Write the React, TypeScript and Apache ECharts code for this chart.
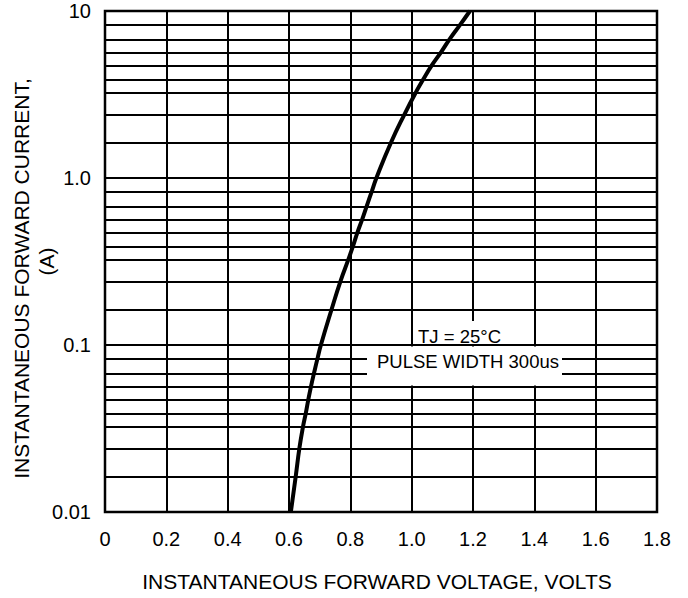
import React, { useEffect, useRef } from "react";
import * as echarts from "echarts";

// Forward voltage (V) read at each grid current (A)
const voltage = [
  0.606, 0.622, 0.634, 0.646, 0.655, 0.663, 0.672, 0.682, 0.693, 0.704,
  0.739, 0.768, 0.794, 0.809, 0.823, 0.839, 0.854, 0.870, 0.885,
  0.933, 0.977, 1.014, 1.039, 1.065, 1.096, 1.125, 1.159, 1.190,
];
const current = [
  0.01, 0.02, 0.03, 0.04, 0.05, 0.06, 0.07, 0.08, 0.09, 0.1,
  0.2, 0.3, 0.4, 0.5, 0.6, 0.7, 0.8, 0.9, 1,
  2, 3, 4, 5, 6, 7, 8, 9, 10,
];

// Minor horizontal grid lines (A)
const gridCurrents = [
  0.02, 0.03, 0.04, 0.05, 0.06, 0.07, 0.08, 0.09,
  0.2, 0.3, 0.4, 0.5, 0.6, 0.7, 0.8, 0.9,
  2, 3, 4, 5, 6, 7, 8, 9,
];

const yTickLabels = ["0.01", "0.1", "1.0", "10"];
const xTickValues = [0, 0.2, 0.4, 0.6, 0.8, 1.0, 1.2, 1.4, 1.6, 1.8];

// The datasheet's (non-ideal) logarithmic ruling: fraction of a decade for each mantissa
const mantissa = [1, 2, 3, 4, 5, 6, 7, 8, 9, 10];
const mantissaFrac = [0, 0.214, 0.383, 0.514, 0.594, 0.673, 0.754, 0.835, 0.92, 1];

function toU(i: number): number {
  const l = Math.log10(i / 0.01);
  const d = Math.floor(l + 1e-9);
  if (d >= 3) return 3;
  const m = i / (0.01 * Math.pow(10, d));
  for (let k = 0; k < mantissa.length - 1; k++) {
    if (m >= mantissa[k] - 1e-9 && m <= mantissa[k + 1] + 1e-9) {
      const t = (m - mantissa[k]) / (mantissa[k + 1] - mantissa[k]);
      return d + mantissaFrac[k] + t * (mantissaFrac[k + 1] - mantissaFrac[k]);
    }
  }
  return d;
}

const FONT = "'Liberation Sans', Arial, Helvetica, sans-serif";

export default function App() {
  const ref = useRef<HTMLDivElement>(null);
  useEffect(() => {
    if (!ref.current) return;
    const chart = echarts.init(ref.current, undefined, { renderer: "svg" });
    chart.setOption({
      animation: false,
      backgroundColor: "#fff",
      grid: {
        left: 105,
        right: 31,
        top: 11,
        bottom: 86,
        show: true,
        borderColor: "#000",
        borderWidth: 2.5,
        backgroundColor: "transparent",
      },
      xAxis: {
        type: "value",
        min: 0,
        max: 1.8,
        interval: 0.2,
        axisLine: { show: false },
        axisTick: { show: false },
        splitLine: { show: true, lineStyle: { color: "#000", width: 2 } },
        axisLabel: {
          fontSize: 20,
          fontFamily: FONT,
          color: "#000",
          margin: 17,
          formatter: (v: number) => {
            const hit = xTickValues.find((t) => Math.abs(t - v) < 1e-6);
            if (hit === undefined) return "";
            return hit === 0 ? "0" : hit.toFixed(1);
          },
        },
      },
      yAxis: {
        type: "value",
        min: 0,
        max: 3,
        interval: 1,
        axisLine: { show: false },
        axisTick: { show: false },
        splitLine: { show: true, lineStyle: { color: "#000", width: 2 } },
        axisLabel: {
          fontSize: 20,
          fontFamily: FONT,
          color: "#000",
          margin: 14,
          padding: [9, 0, 0, 0],
          formatter: (v: number) => yTickLabels[Math.round(v)] ?? "",
        },
      },
      series: [
        {
          type: "line",
          data: voltage.map((v, k) => [v, toU(current[k])]),
          showSymbol: false,
          smooth: 0.5,
          lineStyle: { color: "#000", width: 4 },
          z: 3,
          markLine: {
            silent: true,
            symbol: ["none", "none"],
            label: { show: false },
            lineStyle: { type: "solid", color: "#000", width: 2 },
            data: gridCurrents.map((c) => ({ yAxis: toU(c) })),
            z: 2,
          },
        },
      ],
      graphic: [
        {
          type: "rect",
          silent: true,
          z: 100,
          shape: { x: 413.5, y: 321, width: 120, height: 23 },
          style: { fill: "#fff" },
        },
        {
          type: "rect",
          silent: true,
          z: 100,
          shape: { x: 367, y: 346.5, width: 195, height: 39 },
          style: { fill: "#fff" },
        },
        {
          type: "text",
          z: 101,
          x: 459.5,
          y: 336,
          style: {
            text: "TJ = 25°C",
            fontSize: 18.5,
            fontFamily: FONT,
            fill: "#000",
            align: "center",
            verticalAlign: "middle",
          },
        },
        {
          type: "text",
          z: 101,
          x: 468,
          y: 361,
          style: {
            text: "PULSE WIDTH 300us",
            fontSize: 18.5,
            fontFamily: FONT,
            fill: "#000",
            align: "center",
            verticalAlign: "middle",
          },
        },
        {
          type: "text",
          z: 101,
          x: 377,
          y: 581,
          style: {
            text: "INSTANTANEOUS FORWARD VOLTAGE, VOLTS",
            fontSize: 21,
            fontFamily: FONT,
            fill: "#000",
            align: "center",
            verticalAlign: "middle",
          },
        },
        {
          type: "text",
          z: 101,
          x: 21,
          y: 278.5,
          rotation: Math.PI / 2,
          style: {
            text: "INSTANTANEOUS FORWARD CURRENT,",
            fontSize: 21,
            fontFamily: FONT,
            fill: "#000",
            align: "center",
            verticalAlign: "middle",
          },
        },
        {
          type: "text",
          z: 101,
          x: 46,
          y: 261.5,
          rotation: Math.PI / 2,
          style: {
            text: "(A)",
            fontSize: 21,
            fontFamily: FONT,
            fill: "#000",
            align: "center",
            verticalAlign: "middle",
          },
        },
      ],
    });
    return () => chart.dispose();
  }, []);
  return (
    <div
      ref={ref}
      style={{ position: "fixed", left: 0, top: 0, width: 688, height: 598, background: "#fff" }}
    />
  );
}
